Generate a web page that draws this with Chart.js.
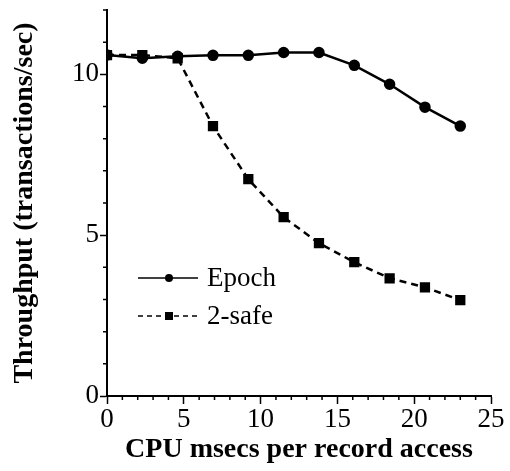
<!DOCTYPE html>
<html lang="en">
<head>
    <meta charset="UTF-8">
    <title>Throughput vs CPU time</title>
    <style>
        body {
            margin: 0;
            background-color: #fff;
        }
        #wrap {
            width: 510px;
            height: 471px;
        }
    </style>
</head>
<body>
    <div id="wrap"><canvas id="throughputChart"></canvas></div>
    <script src="https://cdn.jsdelivr.net/npm/chart.js"></script>
    <script>
        // CPU msecs per record access
        const cpuMsecs = [0, 2.3, 4.6, 6.9, 9.2, 11.5, 13.8, 16.1, 18.4, 20.7, 23.0];
        // throughput in transactions/sec
        const epochThroughput = [10.6, 10.5, 10.56, 10.59, 10.59, 10.68, 10.68, 10.28, 9.69, 8.98, 8.39];
        const twoSafeThroughput = [10.6, 10.6, 10.5, 8.39, 6.74, 5.56, 4.75, 4.16, 3.66, 3.38, 2.98];
        const seriesNames = ['Epoch', '2-safe'];
        const xMajorTicks = [0, 5, 10, 15, 20, 25];
        const yMajorTicks = [0, 5, 10];

        const serif = "'Liberation Serif', 'Times New Roman', serif";

        function toPoints(ys) {
            return cpuMsecs.map((x, i) => ({ x: x, y: ys[i] }));
        }

        // small outward ticks at every unit between the labelled ones
        const minorTicks = {
            id: 'minorTicks',
            afterDraw(chart) {
                const ctx = chart.ctx;
                const xs = chart.scales.x, ys = chart.scales.y;
                ctx.save();
                ctx.strokeStyle = '#000';
                ctx.lineWidth = 1.5;
                ctx.beginPath();
                for (let v = xs.min + 1; v < xs.max; v++) {
                    if (v % 5 === 0) continue;
                    const px = xs.getPixelForValue(v);
                    ctx.moveTo(px, ys.bottom);
                    ctx.lineTo(px, ys.bottom + 4);
                }
                for (let v = ys.min + 1; v <= ys.max; v++) {
                    if (v % 5 === 0) continue;
                    const py = ys.getPixelForValue(v);
                    ctx.moveTo(xs.left, py);
                    ctx.lineTo(xs.left - 4, py);
                }
                ctx.stroke();
                ctx.restore();
            }
        };

        // legend drawn inside the plot: line sample with marker, then name
        const innerLegend = {
            id: 'innerLegend',
            afterDraw(chart) {
                const ctx = chart.ctx;
                const x0 = 138, x1 = 198, xm = 169, tx = 207;
                const rows = [278, 316];
                ctx.save();
                ctx.fillStyle = '#000';
                ctx.strokeStyle = '#000';
                ctx.font = '27px ' + serif;
                ctx.textBaseline = 'middle';
                rows.forEach((y, i) => {
                    ctx.lineWidth = 1.5;
                    ctx.setLineDash(i === 0 ? [] : [5, 4]);
                    ctx.beginPath();
                    ctx.moveTo(x0, y);
                    ctx.lineTo(x1, y);
                    ctx.stroke();
                    ctx.setLineDash([]);
                    if (i === 0) {
                        ctx.beginPath();
                        ctx.arc(xm, y, 4, 0, Math.PI * 2);
                        ctx.fill();
                    } else {
                        ctx.fillRect(xm - 4, y - 4, 8, 8);
                    }
                    ctx.fillText(seriesNames[i], tx, y + 1);
                });
                ctx.restore();
            }
        };

        new Chart(document.getElementById('throughputChart'), {
            type: 'scatter',
            data: {
                datasets: [
                    {
                        label: seriesNames[1],
                        data: toPoints(twoSafeThroughput),
                        showLine: true,
                        borderColor: '#000',
                        backgroundColor: '#000',
                        borderWidth: 2.5,
                        borderDash: [7, 5],
                        pointStyle: 'rect',
                        pointRadius: 5.5,
                        pointHoverRadius: 5.5
                    },
                    {
                        label: seriesNames[0],
                        data: toPoints(epochThroughput),
                        showLine: true,
                        borderColor: '#000',
                        backgroundColor: '#000',
                        borderWidth: 2.5,
                        pointStyle: 'circle',
                        pointRadius: 4.5,
                        pointHoverRadius: 4.5
                    }
                ]
            },
            options: {
                responsive: true,
                maintainAspectRatio: false,
                animation: false,
                layout: { padding: { left: 0, right: 19, top: 10, bottom: 0 } },
                plugins: {
                    legend: { display: false },
                    tooltip: { enabled: false }
                },
                scales: {
                    x: {
                        type: 'linear',
                        min: 0,
                        max: 25,
                        afterBuildTicks(scale) {
                            scale.ticks = xMajorTicks.map(v => ({ value: v }));
                        },
                        afterFit(scale) {
                            scale.height = 75;
                        },
                        border: { color: '#000', width: 2 },
                        grid: { drawOnChartArea: false, color: '#000', tickLength: 8, tickWidth: 1.5 },
                        ticks: {
                            color: '#000',
                            padding: 0,
                            maxRotation: 0,
                            font: { family: serif, size: 27 }
                        },
                        title: {
                            display: true,
                            text: 'CPU msecs per record access',
                            color: '#000',
                            padding: { top: 0, bottom: 4 },
                            font: { family: serif, size: 28, weight: 'bold' }
                        }
                    },
                    y: {
                        type: 'linear',
                        min: 0,
                        max: 12,
                        afterBuildTicks(scale) {
                            scale.ticks = yMajorTicks.map(v => ({ value: v }));
                        },
                        afterFit(scale) {
                            scale.width = 107;
                            scale.paddingTop = 0;
                            scale.paddingBottom = 0;
                        },
                        border: { color: '#000', width: 2 },
                        grid: { drawOnChartArea: false, color: '#000', tickLength: 7, tickWidth: 1.5 },
                        ticks: {
                            color: '#000',
                            padding: 1,
                            font: { family: serif, size: 27 }
                        },
                        title: {
                            display: true,
                            text: 'Throughput (transactions/sec)',
                            color: '#000',
                            padding: { top: 8, bottom: 0 },
                            font: { family: serif, size: 28, weight: 'bold' }
                        }
                    }
                }
            },
            plugins: [minorTicks, innerLegend]
        });
    </script>
</body>
</html>
